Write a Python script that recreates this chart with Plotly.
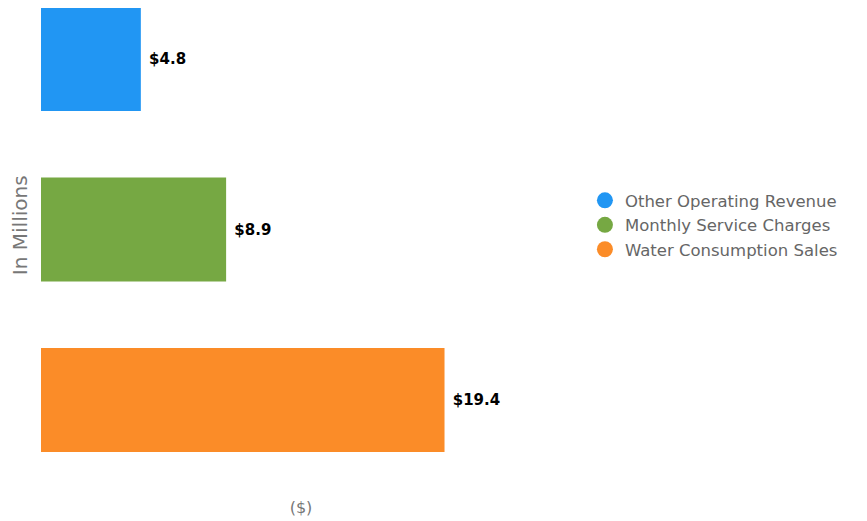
import plotly.graph_objects as go

categories = ["Water Consumption Sales", "Monthly Service Charges", "Other Operating Revenue"]
values = [19.4, 8.9, 4.8]
labels = ["$19.4", "$8.9", "$4.8"]
colors = ["#FB8C28", "#76A843", "#2196F3"]

FONT = "DejaVu Sans"
fig = go.Figure()
for c, v, t, col in zip(categories, values, labels, colors):
    fig.add_trace(go.Bar(
        y=[c], x=[v], orientation="h", marker=dict(color=col, line=dict(width=0)),
        text=[t], texttemplate=" %{text}", textposition="outside", cliponaxis=False,
        textfont=dict(family=FONT, size=15, color="#000000", weight="bold"),
        width=0.61, showlegend=False, hoverinfo="skip"))

for c, col in zip(categories[::-1], colors[::-1]):
    fig.add_trace(go.Scatter(x=[None], y=[None], mode="markers", name=c,
                             marker=dict(color=col, size=18, symbol="circle")))

fig.update_layout(
    width=867, height=521,
    margin=dict(l=33, r=314, t=0, b=59),
    paper_bgcolor="white", plot_bgcolor="white",
    barmode="overlay",
    font=dict(family=FONT, color="#666666"),
    xaxis=dict(range=[0, 25], showticklabels=False, showgrid=False, zeroline=False,
               showline=False, ticks="", automargin=False,
               title=dict(text="($)", font=dict(size=16, color="#777777"), standoff=31)),
    yaxis=dict(categoryorder="array", categoryarray=categories,
               range=[-0.41, 2.299], showticklabels=False, showgrid=False,
               zeroline=False, showline=False, ticks="", automargin=False),
    annotations=[dict(text="In Millions", textangle=-90, xref="paper", yref="paper",
                      x=-0.0404, y=0.530, xanchor="center", yanchor="middle",
                      showarrow=False, font=dict(size=20, color="#777777"))],
    legend=dict(x=1.046, xanchor="left", y=0.53, yanchor="middle",
                traceorder="normal", font=dict(size=16.5, color="#666666"),
                itemsizing="trace", tracegroupgap=0),
)

fig.write_html("out.html")
